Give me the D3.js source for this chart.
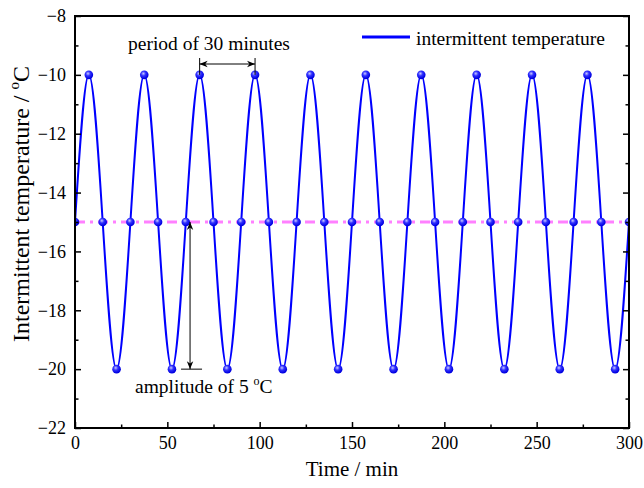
<!DOCTYPE html>
<html>
<head>
<meta charset="utf-8">
<script src="https://cdn.jsdelivr.net/npm/d3@7"></script>
<style>
  body { margin: 0; background: #fff; }
  svg text { font-family: "Liberation Serif", "Times New Roman", serif; }
</style>
</head>
<body>
<script>
var width = 644;
var height = 488;

// data: samples every quarter period
var times = [0, 7.5, 15, 22.5, 30, 37.5, 45, 52.5, 60, 67.5, 75, 82.5, 90, 97.5,
             105, 112.5, 120, 127.5, 135, 142.5, 150, 157.5, 165, 172.5, 180,
             187.5, 195, 202.5, 210, 217.5, 225, 232.5, 240, 247.5, 255, 262.5,
             270, 277.5, 285, 292.5, 300];
var temps = [-15, -10, -15, -20, -15, -10, -15, -20, -15, -10, -15, -20, -15, -10,
             -15, -20, -15, -10, -15, -20, -15, -10, -15, -20, -15,
             -10, -15, -20, -15, -10, -15, -20, -15, -10, -15, -20,
             -15, -10, -15, -20, -15];
var baseTemp = -15;
var xTicks = [0, 50, 100, 150, 200, 250, 300];
var xMinorTicks = [25, 75, 125, 175, 225, 275];
var yTicks = [-22, -20, -18, -16, -14, -12, -10, -8];
var yMinorTicks = [-21, -19, -17, -15, -13, -11, -9];

var serif = "Liberation Serif";

var margin = {left: 75, right: 15, top: 16, bottom: 60};

var svg = d3.select("body")
            .append("svg")
            .attr("width", width)
            .attr("height", height);

var x = d3.scaleLinear().domain([0, 300]).range([margin.left, width - margin.right]);
var y = d3.scaleLinear().domain([-22, -8]).range([height - margin.bottom, margin.top]);

var defs = svg.append("defs");
var grad = defs.append("radialGradient")
               .attr("id", "ball")
               .attr("cx", "40%").attr("cy", "35%").attr("r", "60%");
grad.append("stop").attr("offset", "0%").attr("stop-color", "#c8c8ff");
grad.append("stop").attr("offset", "45%").attr("stop-color", "#3030ff");
grad.append("stop").attr("offset", "100%").attr("stop-color", "#0000e0");

defs.append("clipPath")
    .attr("id", "plotclip")
    .append("rect")
    .attr("x", x(0)).attr("y", y(-8))
    .attr("width", x(300) - x(0)).attr("height", y(-22) - y(-8));

defs.append("marker")
    .attr("id", "arrow")
    .attr("viewBox", "0 0 10 10")
    .attr("refX", 10).attr("refY", 5)
    .attr("markerWidth", 8).attr("markerHeight", 8)
    .attr("markerUnits", "userSpaceOnUse")
    .attr("orient", "auto-start-reverse")
    .append("path")
    .attr("d", "M0,1L10,5L0,9L3,5z")
    .attr("fill", "#000");

var plot = svg.append("g").attr("clip-path", "url(#plotclip)");

// baseline
plot.append("line")
   .attr("x1", x(0)).attr("x2", x(300))
   .attr("y1", y(baseTemp)).attr("y2", y(baseTemp))
   .attr("stroke", "#ff80ff")
   .attr("stroke-width", 3)
   .attr("stroke-dasharray", "10,5,3,5");

var pts = times.map(function(t, i) { return [t, temps[i]]; });

var line = d3.line()
             .x(function(d) { return x(d[0]); })
             .y(function(d) { return y(d[1]); })
             .curve(d3.curveNatural);

plot.append("path")
   .datum(pts)
   .attr("fill", "none")
   .attr("stroke", "#0000ff")
   .attr("stroke-width", 2)
   .attr("d", line);

plot.append("g")
   .selectAll("circle")
   .data(pts)
   .enter()
   .append("circle")
   .attr("cx", function(d) { return x(d[0]); })
   .attr("cy", function(d) { return y(d[1]); })
   .attr("r", 4.3)
   .attr("fill", "url(#ball)");

// axes
svg.append("g")
   .attr("transform", "translate(0," + y(-22) + ")")
   .call(d3.axisBottom(x).tickValues(xTicks).tickSize(-6).tickPadding(8).tickFormat(d3.format("d")));
svg.append("g")
   .attr("transform", "translate(0," + y(-22) + ")")
   .call(d3.axisBottom(x).tickValues(xMinorTicks).tickSize(-3.5).tickFormat(""));

svg.append("g")
   .attr("transform", "translate(" + x(0) + ",0)")
   .call(d3.axisLeft(y).tickValues(yTicks).tickSize(-6).tickPadding(9).tickFormat(d3.format("d")));
svg.append("g")
   .attr("transform", "translate(" + x(0) + ",0)")
   .call(d3.axisLeft(y).tickValues(yMinorTicks).tickSize(-3.5).tickFormat(""));

svg.append("g")
   .attr("transform", "translate(" + x(300) + ",0)")
   .call(d3.axisRight(y).tickValues(yTicks).tickSize(-6).tickFormat(""));
svg.append("g")
   .attr("transform", "translate(" + x(300) + ",0)")
   .call(d3.axisRight(y).tickValues(yMinorTicks).tickSize(-3.5).tickFormat(""));

svg.selectAll(".domain").remove();
svg.selectAll(".tick line").attr("stroke", "#000").attr("stroke-width", 1.5);
svg.selectAll(".tick").attr("font-family", serif);
svg.selectAll(".tick text")
   .attr("font-size", 18)
   .attr("font-family", serif)
   .attr("fill", "#000");

// frame
svg.append("rect")
   .attr("x", x(0)).attr("y", y(-8))
   .attr("width", x(300) - x(0)).attr("height", y(-22) - y(-8))
   .attr("fill", "none")
   .attr("stroke", "#000")
   .attr("stroke-width", 2);

// axis titles
svg.append("text")
   .attr("x", (x(0) + x(300)) / 2)
   .attr("y", 476)
   .attr("text-anchor", "middle")
   .attr("font-size", 21)
   .text("Time / min");

var yt = svg.append("text")
   .attr("transform", "translate(29,204) rotate(-90)")
   .attr("text-anchor", "middle")
   .attr("font-size", 24);
yt.append("tspan").text("Intermittent temperature / ");
yt.append("tspan").attr("font-size", 15).attr("dy", -10).text("o");
yt.append("tspan").attr("dy", 10).text("C");

// legend
svg.append("line")
   .attr("x1", 362).attr("x2", 410)
   .attr("y1", 37).attr("y2", 37)
   .attr("stroke", "#0000ff").attr("stroke-width", 3);
svg.append("text")
   .attr("x", 416).attr("y", 45)
   .attr("font-size", 19.5)
   .text("intermittent temperature");

// period annotation
svg.append("text")
   .attr("x", 209).attr("y", 50)
   .attr("text-anchor", "middle")
   .attr("font-size", 19.5)
   .text("period of 30 minutes");
[67.5, 97.5].forEach(function(t) {
  svg.append("line")
     .attr("x1", x(t)).attr("x2", x(t))
     .attr("y1", 58).attr("y2", y(-10))
     .attr("stroke", "#000").attr("stroke-width", 1);
});
svg.append("line")
   .attr("x1", x(67.5)).attr("x2", x(97.5))
   .attr("y1", 64).attr("y2", 64)
   .attr("stroke", "#000").attr("stroke-width", 1)
   .attr("marker-start", "url(#arrow)")
   .attr("marker-end", "url(#arrow)");

// amplitude annotation
var ampT = 62.3;
svg.append("line")
   .attr("x1", x(ampT)).attr("x2", x(ampT))
   .attr("y1", y(-15)).attr("y2", y(-20))
   .attr("stroke", "#000").attr("stroke-width", 1)
   .attr("marker-start", "url(#arrow)")
   .attr("marker-end", "url(#arrow)");
svg.append("line")
   .attr("x1", x(ampT) - 9).attr("x2", x(ampT) + 12)
   .attr("y1", y(-20)).attr("y2", y(-20))
   .attr("stroke", "#000").attr("stroke-width", 1);
var at = svg.append("text")
   .attr("x", 135).attr("y", 393)
   .attr("font-size", 19.5);
at.append("tspan").text("amplitude of 5 ");
at.append("tspan").attr("font-size", 12).attr("dy", -8).text("o");
at.append("tspan").attr("dy", 8).text("C");
</script>
</body>
</html>
